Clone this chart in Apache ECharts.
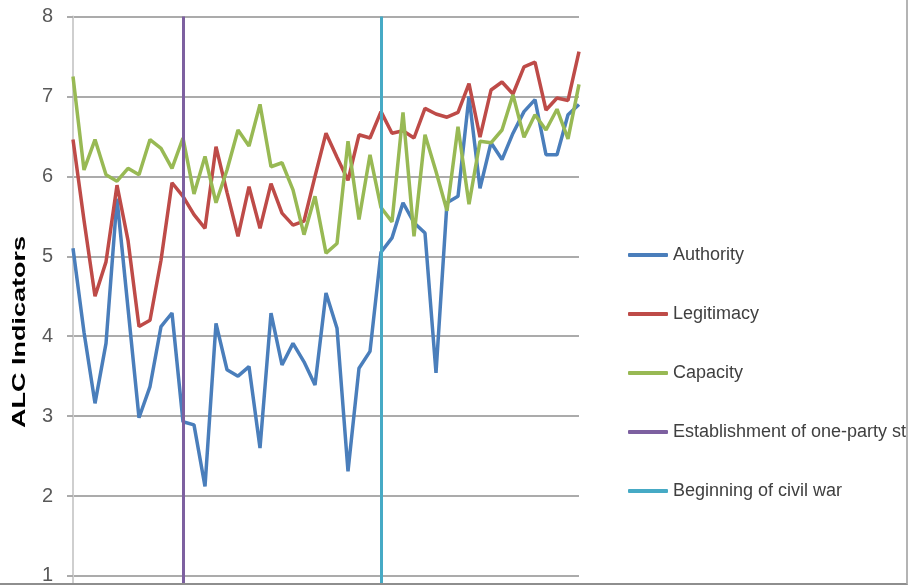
<!DOCTYPE html>
<html>
<head>
<meta charset="utf-8">
<script src="https://cdn.jsdelivr.net/npm/echarts@6/dist/echarts.min.js"></script>
<style>
  html, body { margin: 0; padding: 0; background: #ffffff; }
  #frame { width: 906px; height: 583px; border-right: 2px solid #b4b4b4; border-bottom: 2px solid #8e8e8e; background: #ffffff; overflow: hidden; }
  /* the plot runs on below the visible frame, down to the 0 line */
  #chart { width: 906px; height: 670px; }
</style>
</head>
<body>
<div id="frame"><div id="chart"></div></div>
<script>
// Periods along the horizontal axis (annual observations)
const periods = ['1','2','3','4','5','6','7','8','9','10','11','12','13','14','15','16','17','18','19','20',
  '21','22','23','24','25','26','27','28','29','30','31','32','33','34','35','36','37','38','39','40',
  '41','42','43','44','45','46','47'];

const authority = [5.10, 4.05, 3.16, 3.91, 5.72, 4.35, 2.98, 3.37, 4.12, 4.29,
  2.93, 2.89, 2.12, 4.16, 3.58, 3.50, 3.62, 2.60, 4.29, 3.64,
  3.91, 3.68, 3.39, 4.54, 4.10, 2.31, 3.60, 3.81, 5.05, 5.23,
  5.67, 5.42, 5.29, 3.54, 5.67, 5.75, 7.00, 5.85, 6.42, 6.21,
  6.54, 6.81, 6.96, 6.27, 6.27, 6.77, 6.90];

const legitimacy = [6.46, 5.45, 4.50, 4.93, 5.89, 5.20, 4.12, 4.20, 4.95, 5.92,
  5.75, 5.52, 5.35, 6.37, 5.80, 5.25, 5.87, 5.35, 5.91, 5.54,
  5.39, 5.44, 6.00, 6.54, 6.24, 5.95, 6.52, 6.48, 6.81, 6.54,
  6.57, 6.48, 6.85, 6.78, 6.74, 6.80, 7.16, 6.49, 7.08, 7.18,
  7.03, 7.37, 7.43, 6.83, 6.98, 6.95, 7.56];

const capacity = [7.25, 6.08, 6.46, 6.02, 5.94, 6.10, 6.02, 6.46, 6.35, 6.10,
  6.48, 5.78, 6.25, 5.67, 6.08, 6.58, 6.38, 6.90, 6.12, 6.17,
  5.83, 5.27, 5.75, 5.04, 5.16, 6.44, 5.46, 6.27, 5.61, 5.43,
  6.80, 5.25, 6.52, 6.06, 5.57, 6.62, 5.65, 6.44, 6.42, 6.58,
  7.02, 6.49, 6.77, 6.58, 6.84, 6.47, 7.15];

// Positions (period index) of the two reference events
const oneParty = 10;
const civilWar = 28;

const yTicks = { min: 0, max: 8, interval: 1 };

const colors = {
  authority: '#4a7ebb',
  legitimacy: '#be4b48',
  capacity: '#98b954',
  oneParty: '#7d60a0',
  civilWar: '#46aac5'
};

const sans = "'Liberation Sans', Arial, sans-serif";

function eventSeries(name, color, idx) {
  return {
    name: name,
    type: 'line',
    data: [],
    symbol: 'none',
    itemStyle: { color: color },
    lineStyle: { color: color, width: 3 },
    markLine: {
      silent: true,
      symbol: ['none', 'none'],
      label: { show: false },
      lineStyle: { color: color, width: 3, type: 'solid' },
      data: [{ xAxis: periods[idx] }]
    }
  };
}

function lineSeries(name, color, values) {
  return {
    name: name,
    type: 'line',
    data: values,
    symbol: 'none',
    smooth: false,
    itemStyle: { color: color },
    lineStyle: { color: color, width: 3.5 },
    z: 3
  };
}

const chart = echarts.init(document.getElementById('chart'), null, { renderer: 'canvas' });

chart.setOption({
  animation: false,
  backgroundColor: '#ffffff',
  grid: { left: 73, right: 327, top: 16.5, bottom: 14.1, containLabel: false },
  xAxis: {
    type: 'category',
    data: periods,
    boundaryGap: false,
    axisLine: { show: false },
    axisTick: { show: false },
    axisLabel: { show: false },
    splitLine: { show: false }
  },
  yAxis: {
    type: 'value',
    min: yTicks.min,
    max: yTicks.max,
    interval: yTicks.interval,
    axisLine: { show: true, lineStyle: { color: '#cfcfcf', width: 2 } },
    axisTick: { show: true, length: 6, lineStyle: { color: '#ababab', width: 2 } },
    axisLabel: {
      showMinLabel: false,
      margin: 20,
      fontFamily: sans,
      fontSize: 20,
      color: '#595959'
    },
    splitLine: { show: true, lineStyle: { color: '#ababab', width: 2 } }
  },
  // vertical axis title, drawn tall and narrow
  graphic: [{
    type: 'text',
    x: 20,
    y: 332,
    rotation: Math.PI / 2,
    scaleX: 1.5,
    scaleY: 1,
    style: {
      text: 'ALC Indicators',
      fontFamily: sans,
      fontWeight: 'bold',
      fontSize: 18,
      fill: '#000000',
      align: 'center',
      verticalAlign: 'middle'
    }
  }],
  legend: {
    orient: 'vertical',
    left: 628,
    top: 244,
    padding: 0,
    itemWidth: 40,
    itemHeight: 4,
    itemGap: 37,
    itemStyle: { borderWidth: 0 },
    textStyle: { fontFamily: sans, fontSize: 18, lineHeight: 22, color: '#404040' },
    data: [
      { name: 'Authority', icon: 'roundRect' },
      { name: 'Legitimacy', icon: 'roundRect' },
      { name: 'Capacity', icon: 'roundRect' },
      { name: 'Establishment of one-party state', icon: 'roundRect' },
      { name: 'Beginning of civil war', icon: 'roundRect' }
    ]
  },
  series: [
    lineSeries('Authority', colors.authority, authority),
    lineSeries('Legitimacy', colors.legitimacy, legitimacy),
    lineSeries('Capacity', colors.capacity, capacity),
    eventSeries('Establishment of one-party state', colors.oneParty, oneParty),
    eventSeries('Beginning of civil war', colors.civilWar, civilWar)
  ]
});
</script>
</body>
</html>
